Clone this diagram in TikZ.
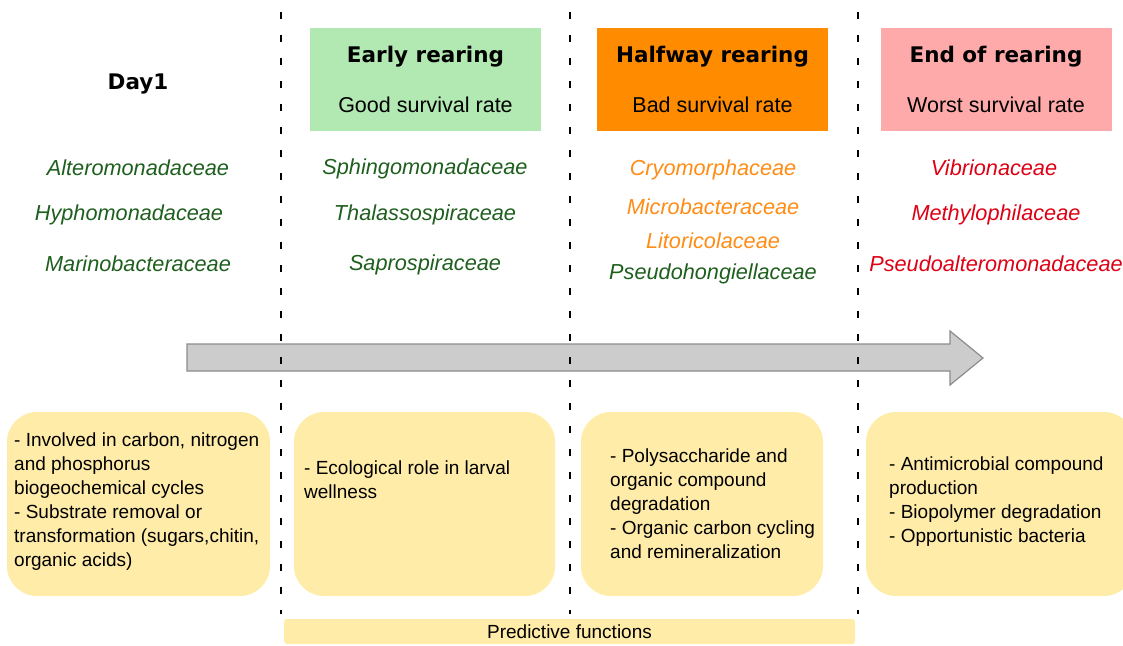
\documentclass[tikz,border=0pt]{standalone}
\usepackage{fontspec}
\setmainfont{Liberation Sans}
\newfontfamily\verdana{DejaVu Sans}
\definecolor{boxgreen}{RGB}{178,232,178}
\definecolor{boxorange}{RGB}{255,140,0}
\definecolor{boxpink}{RGB}{255,170,170}
\definecolor{boxyellow}{RGB}{255,236,168}
\definecolor{famgreen}{RGB}{30,95,30}
\definecolor{famorange}{RGB}{255,140,20}
\definecolor{famred}{RGB}{222,0,20}
\definecolor{arrowgray}{RGB}{204,204,204}
\definecolor{arrowedge}{RGB}{140,140,140}
\begin{document}
\begin{tikzpicture}[x=1pt, y=-1pt,
    stagebox/.style={minimum width=231pt, minimum height=103pt, inner sep=0pt},
    stagetitle/.style={font=\verdana\bfseries\fontsize{21.5}{25}\selectfont},
    stagerate/.style={font=\fontsize{21.5}{25}\selectfont},
    family/.style={font=\itshape\fontsize{21.7}{25}\selectfont},
    rolebox/.style={fill=boxyellow, rounded corners=30pt, minimum height=184pt, inner sep=0pt},
    roletext/.style={anchor=west, align=left, inner sep=0pt, font=\fontsize{19}{24}\selectfont},
    divider/.style={line width=1.6pt, dash pattern=on 7pt off 16pt}]
    \useasboundingbox (0,0) rectangle (1123,645);

    % stage headers
    \node at (138,84) (day1) [stagetitle] {Day1};
    \node at (425.5,79.5) (earlybox) [stagebox, fill=boxgreen] {};
    \node at (425.5,57) (early) [stagetitle] {Early rearing};
    \node at (425.5,105) (earlyrate) [stagerate] {Good survival rate};
    \node at (712.5,79.5) (halfbox) [stagebox, fill=boxorange] {};
    \node at (712.5,57) (half) [stagetitle] {Halfway rearing};
    \node at (712.5,105) (halfrate) [stagerate] {Bad survival rate};
    \node at (996,79.5) (endbox) [stagebox, fill=boxpink] {};
    \node at (996,57) (endrear) [stagetitle] {End of rearing};
    \node at (996,105) (endrate) [stagerate] {Worst survival rate};

    % families
    \node at (138,168) (altero) [family, text=famgreen] {Alteromonadaceae};
    \node at (129,215) (hypho) [family, text=famgreen] {Hyphomonadaceae};
    \node at (138,264) (marino) [family, text=famgreen] {Marinobacteraceae};
    \node at (425,169) (sphingo) [family, text=famgreen] {Sphingomonadaceae};
    \node at (425,215) (thalasso) [family, text=famgreen] {Thalassospiraceae};
    \node at (425,265) (sapro) [family, text=famgreen] {Saprospiraceae};
    \node at (713,170) (cryo) [family, text=famorange] {Cryomorphaceae};
    \node at (713,207) (micro) [family, text=famorange] {Microbacteraceae};
    \node at (713,241) (litori) [family, text=famorange] {Litoricolaceae};
    \node at (713,274) (pseudohong) [family, text=famgreen] {Pseudohongiellaceae};
    \node at (994,168) (vibrio) [family, text=famred] {Vibrionaceae};
    \node at (996,215) (methylo) [family, text=famred] {Methylophilaceae};
    \node at (996,264) (pseudoalt) [family, text=famred] {Pseudoalteromonadaceae};

    % time arrow
    \draw[fill=arrowgray, draw=arrowedge, line width=1.2pt]
        (187,344) -- (950,344) -- (950,331) -- (983,358) -- (950,385) -- (950,371) -- (187,371) -- cycle;

    % dividers
    \foreach \x in {281,570,858}
        \draw[divider] (\x,12) -- (\x,614);

    % predicted roles
    \node at (138.5,504) (daybox) [rolebox, minimum width=263pt] {};
    \node at (14,501.5) (daytext) [roletext] {- Involved in carbon, nitrogen\\and phosphorus\\biogeochemical cycles\\- Substrate removal or\\transformation (sugars,chitin,\\organic acids)};
    \node at (424.5,504) (earlybottom) [rolebox, minimum width=261pt] {};
    \node at (304,480) (earlytext) [roletext] {- Ecological role in larval\\wellness};
    \node at (702,504) (halfbottom) [rolebox, minimum width=242pt] {};
    \node at (610,503.5) (halftext) [roletext] {- Polysaccharide and\\organic compound\\degradation\\- Organic carbon cycling\\and remineralization};
    \node at (1000,504) (endbottom) [rolebox, minimum width=268pt] {};
    \node at (889,502) (endtext) [roletext] {- Antimicrobial compound\\production\\- Biopolymer degradation\\- Opportunistic bacteria};

    \node at (569.5,631.5) (predict) [fill=boxyellow, rounded corners=3pt, minimum width=571pt, minimum height=25pt, inner sep=0pt, font=\fontsize{19}{22}\selectfont] {Predictive functions};
\end{tikzpicture}
\end{document}
